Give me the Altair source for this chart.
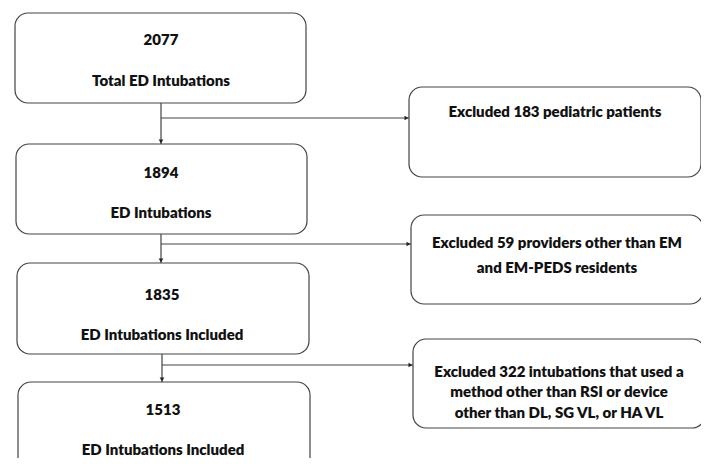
import altair as alt
import pandas as pd

# Flowchart content
counts = ["2077", "1894", "1835", "1513"]
main_labels = ["Total ED Intubations", "ED Intubations", "ED Intubations Included", "ED Intubations Included"]
excl_lines = [
    ["Excluded 183 pediatric patients"],
    ["Excluded 59 providers other than EM", "and EM-PEDS residents"],
    ["Excluded 322 intubations that used a", "method other than RSI or device", "other than DL, SG VL, or HA VL"],
]

# Layout (image pixel coordinates)
main_x = [15, 16, 17, 18]
main_x2 = [306, 307, 309, 310]
main_y = [13, 144, 263, 382]
main_y2 = [103, 234, 354, 474]
main_cx = [161, 161, 162, 163]
count_y = [40, 173, 295, 410]
label_y = [81, 213, 335, 450]

ex_x = [409, 411, 413]
ex_x2 = [701, 703, 705]
ex_y = [87, 215, 339]
ex_y2 = [177, 304, 428]
ex_cx = [555, 557, 559]
ex_text_y = [[112], [243, 268], [372, 392, 413]]
branch_y = [118, 244, 365]

boxes = pd.DataFrame(
    [dict(x=a, x2=b, y=c, y2=d) for a, b, c, d in zip(main_x, main_x2, main_y, main_y2)]
    + [dict(x=a, x2=b, y=c, y2=d) for a, b, c, d in zip(ex_x, ex_x2, ex_y, ex_y2)]
)

texts = []
for i in range(4):
    texts.append(dict(x=main_cx[i], y=count_y[i], t=counts[i]))
    texts.append(dict(x=main_cx[i], y=label_y[i], t=main_labels[i]))
for i in range(3):
    for ln, yy in zip(excl_lines[i], ex_text_y[i]):
        texts.append(dict(x=ex_cx[i], y=yy, t=ln))
texts = pd.DataFrame(texts)

segs = []
heads_down = []
heads_right = []
for i in range(3):
    segs.append(dict(x=main_cx[i], x2=main_cx[i], y=main_y2[i], y2=main_y[i + 1]))
    heads_down.append(dict(x=main_cx[i], y=main_y[i + 1] - 2.5))
    segs.append(dict(x=main_cx[i], x2=ex_x[i], y=branch_y[i], y2=branch_y[i]))
    heads_right.append(dict(x=ex_x[i] - 2.5, y=branch_y[i]))
segs = pd.DataFrame(segs)
heads_down = pd.DataFrame(heads_down)
heads_right = pd.DataFrame(heads_right)

xs = alt.Scale(domain=[8, 701], nice=False, zero=False)
ys = alt.Scale(domain=[8, 458], nice=False, zero=False, reverse=True)
ax = None

rects = alt.Chart(boxes).mark_rect(
    fill="white", stroke="#444444", strokeWidth=1.2, cornerRadius=13, clip=True
).encode(
    x=alt.X("x:Q", scale=xs, axis=ax), x2="x2:Q",
    y=alt.Y("y:Q", scale=ys, axis=ax), y2="y2:Q",
)

lines = alt.Chart(segs).mark_rule(color="#444444", strokeWidth=1.2).encode(
    x=alt.X("x:Q", scale=xs, axis=ax), x2="x2:Q",
    y=alt.Y("y:Q", scale=ys, axis=ax), y2="y2:Q",
)

hd = alt.Chart(heads_down).mark_point(
    shape="triangle-down", filled=True, size=22, color="#222", opacity=1
).encode(x=alt.X("x:Q", scale=xs, axis=ax), y=alt.Y("y:Q", scale=ys, axis=ax))

hr = alt.Chart(heads_right).mark_point(
    shape="triangle-right", filled=True, size=22, color="#222", opacity=1
).encode(x=alt.X("x:Q", scale=xs, axis=ax), y=alt.Y("y:Q", scale=ys, axis=ax))

txt = alt.Chart(texts).mark_text(
    font="Lato", fontWeight=800, fontSize=15, color="#111", baseline="middle", align="center"
).encode(
    x=alt.X("x:Q", scale=xs, axis=ax), y=alt.Y("y:Q", scale=ys, axis=ax), text="t:N"
)

chart = alt.layer(lines, rects, hd, hr, txt).properties(
    width=693, height=450, padding=0, autosize=alt.AutoSizeParams(type="none"),
    background="white",
).configure_view(stroke=None)

chart.save("out.html", embed_options={"renderer": "svg", "actions": False})
